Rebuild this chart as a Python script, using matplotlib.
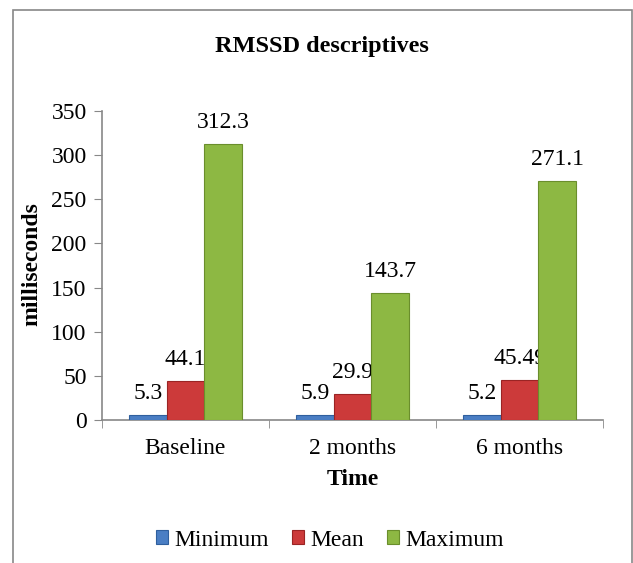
import matplotlib
matplotlib.use("Agg")
import matplotlib.pyplot as plt
from matplotlib.patches import Rectangle
import numpy as np

categories = ["Baseline", "2 months", "6 months"]
series_names = ["Minimum", "Mean", "Maximum"]
minimum = [5.3, 5.9, 5.2]
mean = [44.1, 29.9, 45.49]
maximum = [312.3, 143.7, 271.1]
labels_min = ["5.3", "5.9", "5.2"]
labels_mean = ["44.1", "29.9", "45.49"]
labels_max = ["312.3", "143.7", "271.1"]

colors = ["#4A7EC4", "#CC3A3A", "#8DB843"]
edges = ["#2F5F9E", "#9A2424", "#6A8E2C"]

plt.rcParams['font.family'] = ['Liberation Serif', 'DejaVu Serif']

W, H = 633, 563
FS = 17
fig = plt.figure(figsize=(W / 100, H / 100), dpi=100)
ax = fig.add_axes([102 / W, 1 - 420 / H, 501 / W, (420 - 111) / H])

x = np.arange(len(categories))
bw = 0.225
series = [minimum, mean, maximum]
labs = [labels_min, labels_mean, labels_max]
for i, (vals, lab) in enumerate(zip(series, labs)):
    xs = x + (i - 1) * bw
    ax.bar(xs, vals, width=bw, color=colors[i], edgecolor=edges[i], linewidth=0.8,
           label=series_names[i], zorder=3)
    for xi, v, t in zip(xs, vals, lab):
        ax.annotate(t, (xi, v), xytext=(0, 11.5), textcoords="offset points",
                    ha="center", va="baseline", fontsize=FS, color="black")

ax.set_xlim(-0.5, 2.5)
ax.set_ylim(0, 350)
ax.set_yticks(np.arange(0, 351, 50))
ax.set_xticks(x)
ax.set_xticklabels(categories, fontsize=FS)
ax.set_xticks([-0.5, 0.5, 1.5, 2.5], minor=True)
ax.tick_params(axis='x', which='major', length=0, pad=13)
ax.tick_params(axis='x', which='minor', length=6, color="#888888", direction='out')
ax.tick_params(axis='y', labelsize=FS, length=6, color="#888888", direction='out', pad=5)
for s in ["top", "right"]:
    ax.spines[s].set_visible(False)
for s in ["left", "bottom"]:
    ax.spines[s].set_color("#888888")
    ax.spines[s].set_linewidth(1.2)

ax.set_xlabel("Time", fontsize=FS, fontweight="bold", labelpad=7)
ax.set_ylabel("milliseconds", fontsize=FS, fontweight="bold")
ax.yaxis.set_label_coords((42 - 102) / 501, (420 - 264.5) / 309)
fig.text(322 / W, 1 - 52 / H, "RMSSD descriptives", ha="center", va="baseline",
         fontsize=17.5, fontweight="bold")

leg = fig.legend(loc="center", bbox_to_anchor=(330 / W, 1 - 540 / H), ncol=3, frameon=False,
                 fontsize=FS, handlelength=0.51, handleheight=0.51, handletextpad=0.25,
                 columnspacing=1.0)

fig.patches.append(Rectangle((12.5 / W, -0.05), (631.5 - 12.5) / W, (1 - 10 / H) + 0.05,
                             transform=fig.transFigure, fill=False, edgecolor="#888888",
                             linewidth=1.2))

fig.savefig("out.png", dpi=100)
